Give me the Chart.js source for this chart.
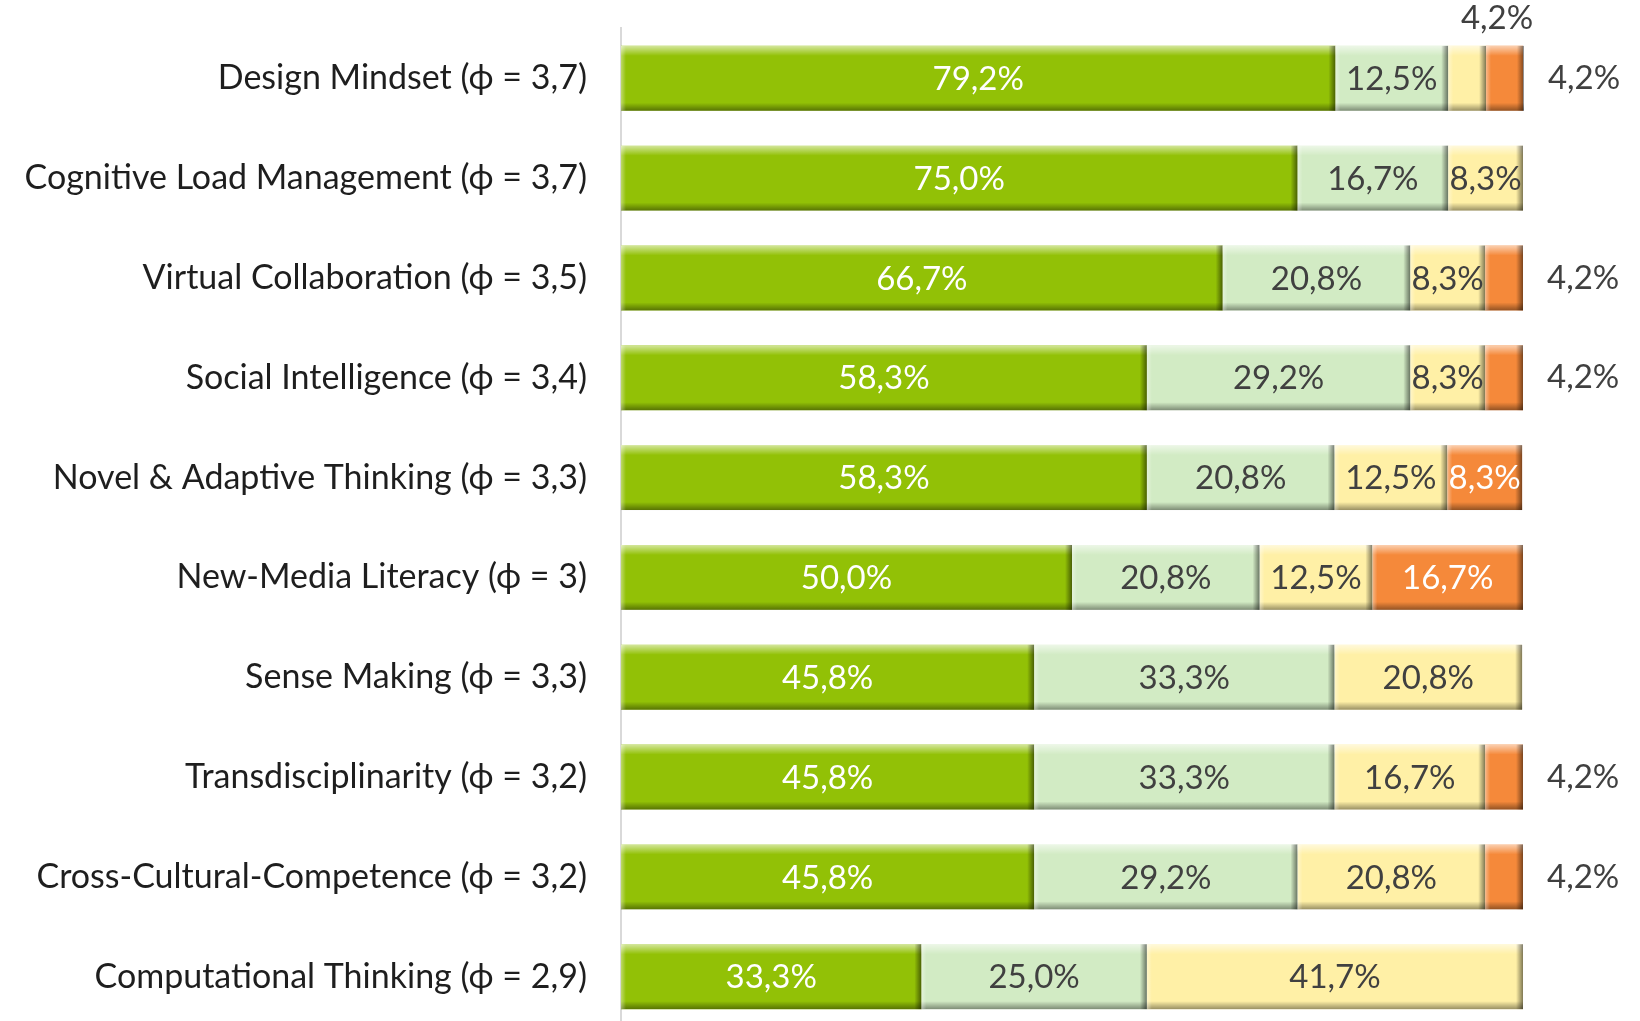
<!DOCTYPE html>
<html>
<head>
<meta charset="utf-8">
<script src="https://cdn.jsdelivr.net/npm/chart.js@4/dist/chart.umd.min.js"></script>
<style>
  html, body { margin: 0; padding: 0; background: #fff; overflow: hidden; }
  #wrap { position: relative; width: 1640px; height: 1091px; margin-top: -18px; }
</style>
</head>
<body>
<div id="wrap"><canvas id="barCanvas"></canvas></div>
<script>
const categories = [
  "Design Mindset (\u03d5 = 3,7)",
  "Cognitive Load Management (\u03d5 = 3,7)",
  "Virtual Collaboration (\u03d5 = 3,5)",
  "Social Intelligence (\u03d5 = 3,4)",
  "Novel & Adaptive Thinking (\u03d5 = 3,3)",
  "New-Media Literacy (\u03d5 = 3)",
  "Sense Making (\u03d5 = 3,3)",
  "Transdisciplinarity (\u03d5 = 3,2)",
  "Cross-Cultural-Competence (\u03d5 = 3,2)",
  "Computational Thinking (\u03d5 = 2,9)"
];
const level1 = [79.2, 75.0, 66.7, 58.3, 58.3, 50.0, 45.8, 45.8, 45.8, 33.3];
const level2 = [12.5, 16.7, 20.8, 29.2, 20.8, 20.8, 33.3, 33.3, 29.2, 25.0];
const level3 = [4.2, 8.3, 8.3, 8.3, 12.5, 12.5, 20.8, 16.7, 20.8, 41.7];
const level4 = [4.2, 0, 4.2, 4.2, 8.3, 16.7, 0, 4.2, 4.2, 0];

const colors = ["#92C106", "#D2EBC4", "#FFF0A6", "#F5893A"];
const labelColors = ["#ffffff", "#404040", "#404040", "#ffffff"];
const fontFamily = "Lato, 'Open Sans', sans-serif";

function fmt(v) {
  return v.toFixed(1).replace(".", ",") + "%";
}

// bevel look like the Excel bars
const bevelPlugin = {
  id: "bevel",
  afterDatasetsDraw(chart) {
    const ctx = chart.ctx;
    chart.data.datasets.forEach((ds, di) => {
      chart.getDatasetMeta(di).data.forEach((bar, i) => {
        if (!ds.data[i]) return;
        const l = Math.min(bar.x, bar.base), r = Math.max(bar.x, bar.base);
        const t = bar.y - bar.height / 2, b = bar.y + bar.height / 2;
        ctx.save();
        let g = ctx.createLinearGradient(0, t, 0, t + 10);
        g.addColorStop(0, "rgba(255,255,255,0.6)");
        g.addColorStop(1, "rgba(255,255,255,0)");
        ctx.fillStyle = g;
        ctx.fillRect(l, t, r - l, 10);
        g = ctx.createLinearGradient(0, b - 8, 0, b);
        g.addColorStop(0, "rgba(0,0,0,0)");
        g.addColorStop(1, "rgba(0,0,0,0.4)");
        ctx.fillStyle = g;
        ctx.fillRect(l, b - 8, r - l, 8);
        g = ctx.createLinearGradient(r - 7, 0, r, 0);
        g.addColorStop(0, "rgba(0,0,0,0)");
        g.addColorStop(1, "rgba(0,0,0,0.5)");
        ctx.fillStyle = g;
        ctx.fillRect(r - 7, t, 7, b - t);
        g = ctx.createLinearGradient(l, 0, l + 5, 0);
        g.addColorStop(0, "rgba(255,255,255,0.4)");
        g.addColorStop(1, "rgba(255,255,255,0)");
        ctx.fillStyle = g;
        ctx.fillRect(l, t, 5, b - t);
        ctx.restore();
      });
    });
  }
};

const labelPlugin = {
  id: "valueLabels",
  afterDatasetsDraw(chart) {
    const ctx = chart.ctx;
    ctx.save();
    ctx.font = "33px " + fontFamily;
    ctx.textBaseline = "middle";
    chart.data.datasets.forEach((ds, di) => {
      chart.getDatasetMeta(di).data.forEach((bar, i) => {
        const v = ds.data[i];
        if (!v) return;
        const l = Math.min(bar.x, bar.base), r = Math.max(bar.x, bar.base);
        if (v < 5) {
          ctx.fillStyle = "#404040";
          if (di === 3) {
            ctx.textAlign = "left";
            ctx.fillText(fmt(v), r + 24, bar.y);
          } else {
            ctx.textAlign = "center";
            ctx.fillText(fmt(v), (l + r) / 2 + 30, bar.y - bar.height / 2 - 28);
          }
        } else {
          ctx.fillStyle = labelColors[di];
          ctx.textAlign = "center";
          ctx.fillText(fmt(v), (l + r) / 2, bar.y + 1);
        }
      });
    });
    ctx.restore();
  }
};

const series = [level1, level2, level3, level4];

new Chart(document.getElementById("barCanvas"), {
  type: "bar",
  data: {
    labels: categories,
    datasets: series.map((d, k) => ({
      data: d,
      backgroundColor: colors[k],
      borderWidth: 0,
      categoryPercentage: 1,
      barPercentage: 0.65
    }))
  },
  options: {
    indexAxis: "y",
    responsive: true,
    maintainAspectRatio: false,
    animation: false,
    layout: { padding: { top: 3, right: 117, bottom: 0, left: 0 } },
    plugins: {
      legend: { display: false },
      tooltip: { enabled: false }
    },
    scales: {
      x: {
        stacked: true,
        min: 0,
        max: 100,
        display: false
      },
      y: {
        stacked: true,
        grid: { display: false },
        border: { display: true, color: "#d9d9d9", width: 2 },
        ticks: {
          color: "#1e1e1e",
          padding: 26,
          font: { family: fontFamily, size: 34 }
        },
        afterFit(scale) { scale.width = 621; }
      }
    }
  },
  plugins: [bevelPlugin, labelPlugin]
});
</script>
</body>
</html>
